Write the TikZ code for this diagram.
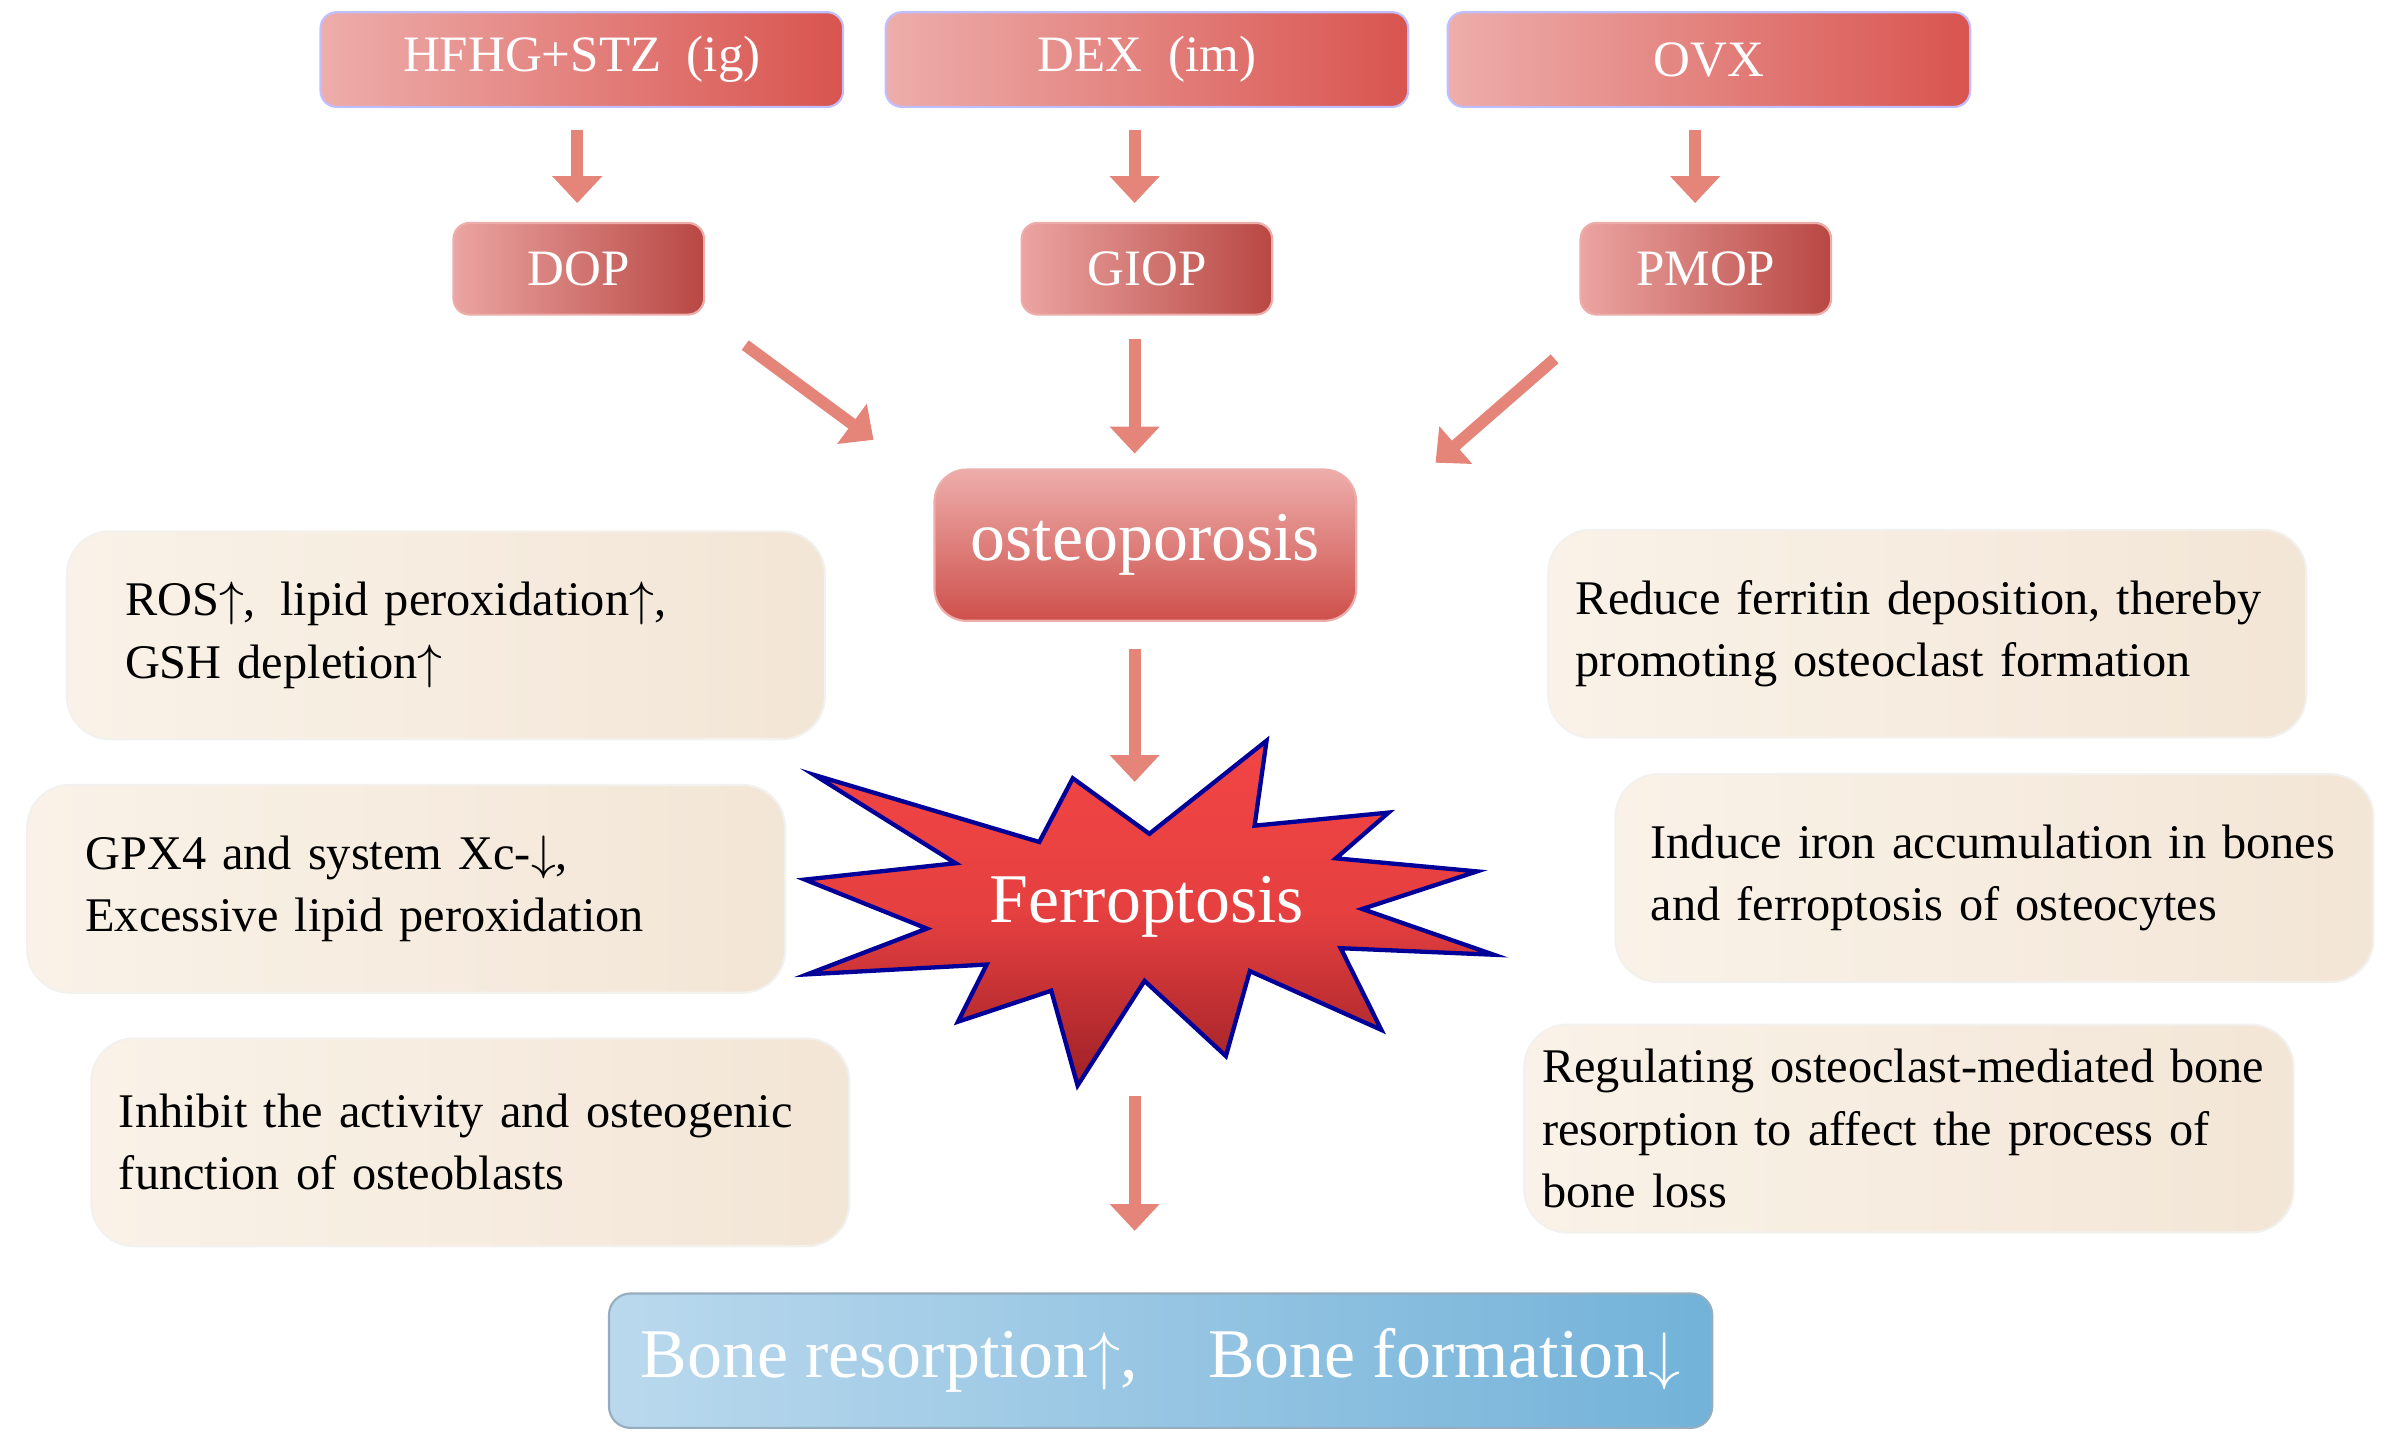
\documentclass[tikz,border=0pt]{standalone}
\usepackage{fontspec}
\setmainfont{Liberation Serif}
\usetikzlibrary{arrows.meta,positioning}
\definecolor{pinkL}{rgb}{0.93,0.68,0.67}
\definecolor{redD}{rgb}{0.85,0.33,0.31}
\definecolor{beigeL}{rgb}{0.98,0.95,0.91}
\definecolor{beigeD}{rgb}{0.95,0.90,0.84}
\definecolor{shaft}{rgb}{0.90,0.52,0.48}
\definecolor{starR}{rgb}{0.95,0.27,0.27}
\definecolor{starD}{rgb}{0.62,0.13,0.15}
\definecolor{blueL}{rgb}{0.73,0.85,0.93}
\definecolor{blueD}{rgb}{0.45,0.70,0.85}
\tikzset{
   cause/.style={rectangle,rounded corners=3pt,left color=pinkL,right color=redD,
     draw=blue!25,minimum width=3.42cm,minimum height=0.62cm,text=white,font=\fontsize{9.5}{11}\selectfont},
   kind/.style={rectangle,rounded corners=3pt,left color=pinkL!90!redD,right color=redD!85!black,
     draw=pinkL,minimum width=1.64cm,minimum height=0.6cm,text=white,font=\fontsize{9.5}{11}\selectfont},
   effect/.style={rectangle,rounded corners=8pt,left color=beigeL,right color=beigeD,
     draw=beigeD!80!black!20,minimum width=4.96cm,minimum height=1.36cm,
     font=\fontsize{9}{11.6}\selectfont,align=left},
   flow/.style={-{Triangle[width=9pt,length=5pt]},line width=2.2pt,draw=shaft},
}
\begin{document}
\begin{tikzpicture}[x=0.01cm,y=-0.01cm]
  \useasboundingbox (0,0) rectangle (1565,949);
  % top causes
  \node[cause] (hfhg) at (381,39) {HFHG+STZ\enspace(ig)};
  \node[cause] (dex) at (751,39) {DEX\enspace(im)};
  \node[cause] (ovx) at (1119,39) {OVX};
  % osteoporosis types
  \node[kind] (dop) at (379,176) {DOP};
  \node[kind] (giop) at (751,176) {GIOP};
  \node[kind] (pmop) at (1117,176) {PMOP};
  \node[rectangle,rounded corners=6pt,top color=pinkL,bottom color=redD!95!black,draw=pinkL,
    minimum width=2.76cm,minimum height=0.99cm,text=white,
    font=\fontsize{13}{16}\selectfont] (osteo) at (750,357) {osteoporosis};
  % star
  \begin{scope}[shift={(523.9,460.4)},xscale=0.3133,yscale=0.214]
    \draw[draw=blue!60!black,line width=0.8pt,top color=starR,bottom color=starD,middle color=starR!85!starD]
      (30,220) -- (500,425) -- (570,230) -- (730,400) -- (975,115) -- (950,375)
      -- (1230,335) -- (1120,475) -- (1415,515) -- (1175,630) -- (1450,770)
      -- (1130,750) -- (1215,1000) -- (940,820) -- (890,1080) -- (720,850)
      -- (580,1170) -- (525,880) -- (330,975) -- (390,800) -- (15,830)
      -- (265,690) -- (10,540) -- (325,490) -- cycle;
  \end{scope}
  \node[text=white,font=\fontsize{13}{16}\selectfont] (ferro) at (751,594) {Ferroptosis};
  \node[rectangle,rounded corners=4pt,left color=blueL,right color=blueD,draw=blueL!80!black,
    minimum width=7.22cm,minimum height=0.88cm,text=white,
    font=\fontsize{13}{16}\selectfont] (bone) at (760,891) {Bone resorption$\uparrow$,\quad Bone formation$\downarrow$};
  % mechanism boxes
  \node[effect,text width=4.2cm] (ros) at (292,416) {ROS$\uparrow$,\enspace lipid peroxidation$\uparrow$,\\GSH depletion$\uparrow$};
  \node[effect,text width=4.2cm] (gpx) at (266,582) {GPX4 and system Xc-$\downarrow$,\\Excessive lipid peroxidation};
  \node[effect,text width=4.6cm] (inh) at (308,748) {Inhibit the activity and osteogenic\\function of osteoblasts};
  \node[effect,text width=4.6cm] (ferr) at (1262,415) {Reduce ferritin deposition, thereby\\promoting osteoclast formation};
  \node[effect,text width=4.5cm] (iron) at (1306,575) {Induce iron accumulation in bones\\and ferroptosis of osteocytes};
  \node[effect,text width=4.8cm] (reg) at (1250,739) {Regulating osteoclast-mediated bone\\resorption to affect the process of\\bone loss};
  % arrows
  \draw[flow] (378,85) -- (378,133);
  \draw[flow] (743,85) -- (743,133);
  \draw[flow] (1110,85) -- (1110,133);
  \draw[flow] (488,226) -- (572,288);
  \draw[flow] (743,222) -- (743,297);
  \draw[flow] (1018,235) -- (940,303);
  \draw[flow] (743,425) -- (743,512);
  \draw[flow] (743,718) -- (743,806);
\end{tikzpicture}
\end{document}
